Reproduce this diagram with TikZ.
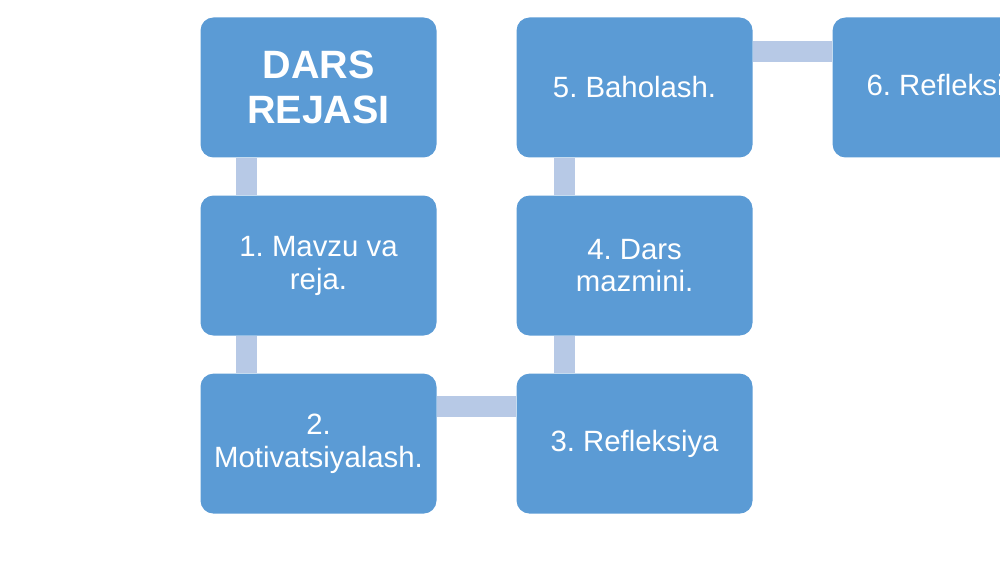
\documentclass[tikz,border=0pt]{standalone}
\usepackage{fontspec}
\setmainfont{Liberation Sans}
\usetikzlibrary{positioning}
\definecolor{boxblue}{RGB}{91,155,213}
\definecolor{linkblue}{RGB}{183,201,230}
\frenchspacing

\begin{document}
\begin{tikzpicture}[
                node distance = 7.4mm and 15.8mm, % gaps between boxes
                semithick
            ]

            \tikzstyle{stepbox}=[fill = boxblue, rounded corners = 2.6mm,
            minimum width = 4.72cm, minimum height = 2.8cm, inner sep = 0pt,
            text = white, align = center, font = \fontsize{16.7}{18.7}\selectfont]
            \tikzstyle{link}=[draw = linkblue, line width = 4.2mm]

            \useasboundingbox (0,0) rectangle (20,11.24);
            \clip (0,0) rectangle (20,11.24);

            \node (reja) [stepbox, font = \fontsize{22.5}{26}\selectfont\bfseries]
            at (6.37,9.49) {DARS\\REJASI};
            \node (mavzu) [stepbox, below=of reja] {1. Mavzu va\\reja.};
            \node (motiv) [stepbox, below=of mavzu] {2.\\Motivatsiyalash.};
            \node (refl) [stepbox, right=of motiv] {3. Refleksiya};
            \node (mazmun) [stepbox, above=of refl] {4. Dars\\mazmini.};
            \node (baho) [stepbox, above=of mazmun] {5. Baholash.};
            \node (reflb) [stepbox, right=of baho] {6. Refleksiya};

            \path[link] ([xshift=0.94cm]reja.south west) -- ([xshift=0.94cm]mavzu.north west);
            \path[link] ([xshift=0.94cm]mavzu.south west) -- ([xshift=0.94cm]motiv.north west);
            \path[link] ([yshift=-0.66cm]motiv.north east) -- ([yshift=-0.66cm]refl.north west);
            \path[link] ([xshift=0.96cm]refl.north west) -- ([xshift=0.96cm]mazmun.south west);
            \path[link] ([xshift=0.96cm]mazmun.north west) -- ([xshift=0.96cm]baho.south west);
            \path[link] ([yshift=-0.7cm]baho.north east) -- ([yshift=-0.7cm]reflb.north west);

        \end{tikzpicture}
\end{document}
